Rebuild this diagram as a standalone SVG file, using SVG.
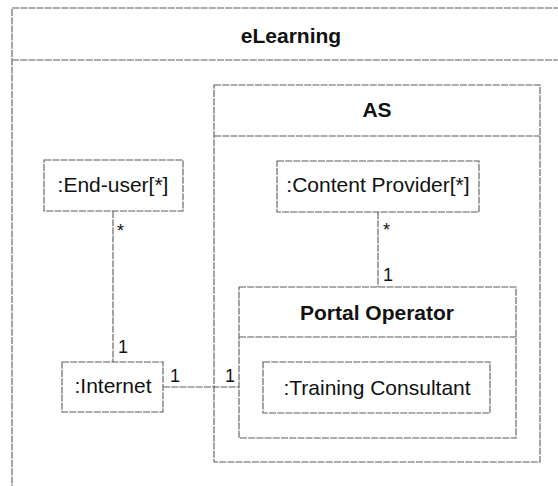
<svg xmlns="http://www.w3.org/2000/svg" width="558" height="486" viewBox="0 0 558 486">
  <style>
    .frame { fill: none; stroke: #5a5a5a; stroke-width: 1.1; stroke-dasharray: 7 1.2; }
    .box { fill: #ffffff; stroke: #5a5a5a; stroke-width: 1.1; stroke-dasharray: 7 1.2; }
    .line { fill: none; stroke: #5a5a5a; stroke-width: 1.1; stroke-dasharray: 7 1.2; }
    .title { font-family: "Liberation Sans", Arial, sans-serif; font-size: 21px; font-weight: bold; fill: #111; text-anchor: middle; }
    .label { font-family: "Liberation Sans", Arial, sans-serif; font-size: 21px; fill: #111; text-anchor: middle; }
    .mult { font-family: "Liberation Sans", Arial, sans-serif; font-size: 18px; fill: #111; }
  </style>
  <rect width="558" height="486" fill="#ffffff"/>

  <!-- outer package frame, running past the right and bottom edges -->
  <g id="eLearning">
    <rect class="frame" x="12" y="8" width="570" height="500"/>
    <line class="line" x1="12" y1="60" x2="558" y2="60"/>
    <text class="title" x="291" y="43">eLearning</text>
  </g>

  <g id="AS">
    <rect class="box" x="214" y="85" width="326" height="377"/>
    <line class="line" x1="214" y1="136" x2="540" y2="136"/>
    <text class="title" x="377" y="117">AS</text>
  </g>

  <g id="end-user">
    <rect class="box" x="44" y="160" width="139" height="51"/>
    <text class="label" x="113" y="192">:End-user[*]</text>
  </g>

  <g id="content-provider">
    <rect class="box" x="277" y="161" width="202" height="51"/>
    <text class="label" x="378" y="192">:Content Provider[*]</text>
  </g>

  <g id="portal-operator">
    <rect class="box" x="239" y="287" width="277" height="151"/>
    <line class="line" x1="239" y1="337" x2="516" y2="337"/>
    <text class="title" x="377" y="320">Portal Operator</text>
  </g>

  <g id="training-consultant">
    <rect class="box" x="263" y="362" width="227" height="51"/>
    <text class="label" x="377" y="395">:Training Consultant</text>
  </g>

  <g id="internet">
    <rect class="box" x="62" y="362" width="101" height="50"/>
    <text class="label" x="113" y="393">:Internet</text>
  </g>

  <g id="connectors">
    <line class="line" x1="113" y1="211" x2="113" y2="362"/>
    <line class="line" x1="378" y1="212" x2="378" y2="287"/>
    <line class="line" x1="163" y1="387" x2="239" y2="387"/>
    <text class="mult" x="117" y="237">*</text>
    <text class="mult" x="118" y="353">1</text>
    <text class="mult" x="383" y="236">*</text>
    <text class="mult" x="383" y="281">1</text>
    <text class="mult" x="170" y="382">1</text>
    <text class="mult" x="225" y="382">1</text>
  </g>
</svg>
